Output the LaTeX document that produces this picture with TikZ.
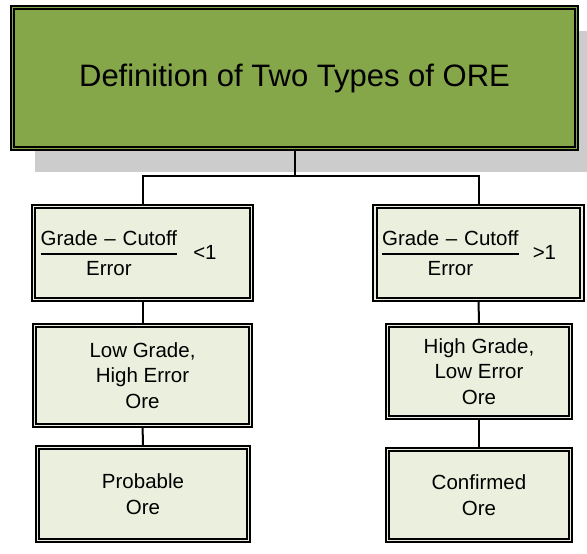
\documentclass[tikz,border=0pt]{standalone}
\usepackage{amsmath}
\usepackage{fontspec}
\setmainfont{Liberation Sans}
\usepackage{tikz}
\usetikzlibrary{calc,shapes,shadows}
\definecolor{oregreen}{RGB}{134,166,74}
\definecolor{orefill}{RGB}{235,240,222}
\definecolor{oreshadow}{RGB}{204,204,204}
\tikzstyle{b}=[rectangle,draw=black,line width=1.8pt,double=orefill,double distance=1.8pt,fill=orefill,align=center,inner sep=0pt,font=\fontsize{20.5}{25.5}\selectfont]
\newcommand{\ratio}{$\genfrac{}{}{2.2pt}{0}{\text{Grade -- Cutoff}}{\text{Error}}$}

\begin{document}
\begin{tikzpicture}[x=1pt,y=-1pt]
%\draw[help lines,step=50] (0,0) grid (587,554);
\useasboundingbox (0,0) rectangle (587,554);
\tikzstyle{t}=[b,fill=oregreen,double=oregreen,font=\fontsize{31}{36}\selectfont,drop shadow={shadow xshift=22pt,shadow yshift=-23pt,fill=oreshadow,opacity=1}]
\tikzstyle{c}=[b,align=left,inner xsep=6pt]
\tikzstyle{l}=[line width=2pt]

\node[t,minimum width=564pt,minimum height=141pt] (top) at (294.5,78) {Definition of Two Types of ORE};

\node[c,text width=206pt,minimum height=93pt] (low) at (142.5,253) {\ratio\hspace{15pt}<1};
\node[c,text width=195pt,minimum height=93pt] (high) at (478.5,253) {\ratio\hspace{13pt}>1};

\node[b,minimum width=216pt,minimum height=100pt] (lowore) at (142.5,375.5) {Low Grade,\\High Error\\Ore};
\node[b,minimum width=183pt,minimum height=92pt] (highore) at (479,371.5) {High Grade,\\Low Error\\Ore};

\node[b,minimum width=211pt,minimum height=93pt] (prob) at (143,494) {Probable\\Ore};
\node[b,minimum width=183pt,minimum height=91pt] (conf) at (479,495) {Confirmed\\Ore};

\coordinate (fork) at (294.5,176);
\draw[l] (top) -- (fork);
\draw[l] (fork) -| (low);
\draw[l] (fork) -| (high);
\draw[l] (low) -- (lowore);
\draw[l] (lowore) -- (prob);
\draw[l] (high) -- (highore);
\draw[l] (highore) -- (conf);
\end{tikzpicture}
\end{document}
